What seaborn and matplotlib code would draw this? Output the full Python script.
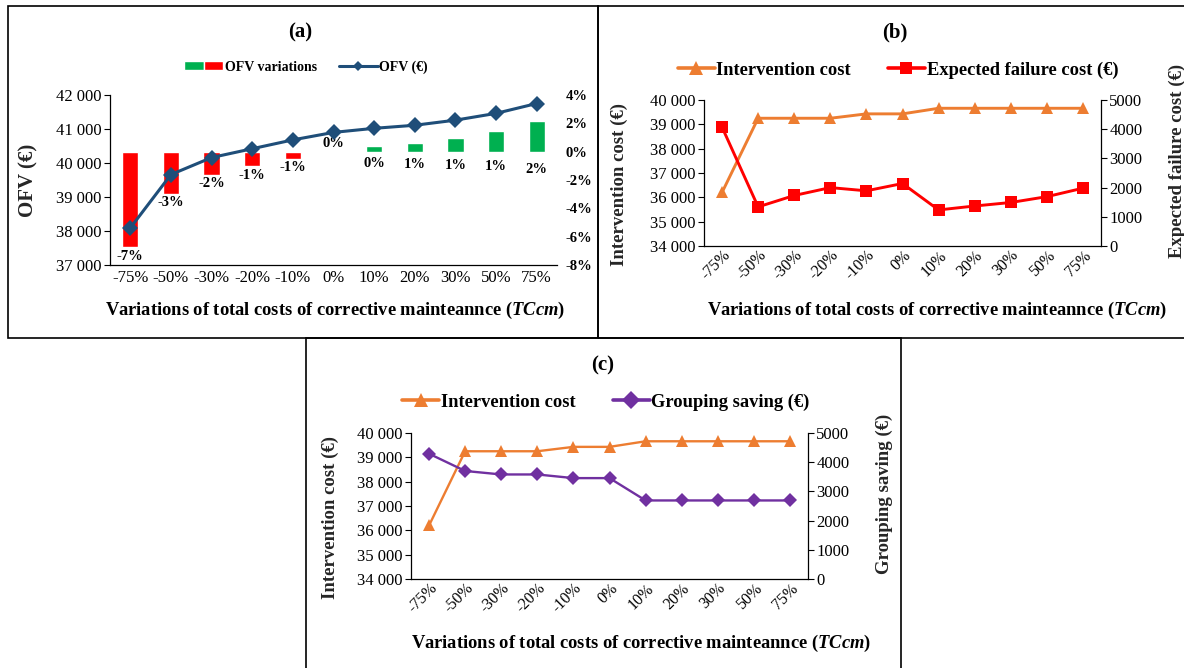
import numpy as np
import pandas as pd
import matplotlib
matplotlib.use("Agg")
import matplotlib.pyplot as plt
import seaborn as sns
from matplotlib.lines import Line2D
from matplotlib.patches import Patch, Rectangle
from matplotlib.legend_handler import HandlerTuple
from matplotlib.ticker import FuncFormatter, MultipleLocator

# ---------------- data ----------------
categories = ['-75%', '-50%', '-30%', '-20%', '-10%', '0%', '10%', '20%', '30%', '50%', '75%']
ofv = [38090, 39660, 40160, 40420, 40680, 40900, 41020, 41110, 41260, 41460, 41750]
ofv_variation = [-6.75, -3.0, -1.64, -1.03, -0.52, 0.0, 0.40, 0.63, 0.94, 1.45, 2.18]
intervention_cost = [36200, 39250, 39250, 39250, 39430, 39430, 39660, 39660, 39660, 39660, 39660]
expected_failure_cost = [4070, 1340, 1730, 2000, 1890, 2140, 1235, 1370, 1490, 1690, 1980]
grouping_saving = [4290, 3700, 3580, 3580, 3455, 3455, 2690, 2690, 2690, 2690, 2690]

XLABEL = r"Variations of total costs of corrective mainteannce ($\mathit{TCcm}$)"

# ---------------- style ----------------
sns.set_theme(style="white")
plt.rcParams['font.family'] = ['Liberation Serif', 'DejaVu Serif']
plt.rcParams['mathtext.fontset'] = 'custom'
plt.rcParams['mathtext.it'] = 'Liberation Serif:italic:bold'
plt.rcParams['mathtext.rm'] = 'Liberation Serif:bold'
plt.rcParams['axes.edgecolor'] = 'black'
plt.rcParams['text.color'] = 'black'
plt.rcParams['xtick.color'] = 'black'
plt.rcParams['ytick.color'] = 'black'

ORANGE = '#ED7D31'
RED = '#FF0000'
GREEN = '#00B050'
BLUE = '#1F4E79'
PURPLE = '#7030A0'

W, H = 1184, 668
fig = plt.figure(figsize=(W / 100, H / 100), dpi=100)
fig.patch.set_facecolor('white')


def box(x0, y0, x1, y1):
    return [x0 / W, 1 - y1 / H, (x1 - x0) / W, (y1 - y0) / H]


def fx(x):
    return x / W


def fy(y):
    return 1 - y / H


space_fmt = FuncFormatter(lambda v, p: f"{int(round(v)):,}".replace(",", " "))

# panel frames (b's right edge and c's bottom edge run off the image)
for (x0, y0, x1, y1) in [(8, 6, 598, 338), (598, 6, 1190, 338), (306, 338, 901, 675)]:
    fig.add_artist(Rectangle((fx(x0), fy(y1)), (x1 - x0) / W, (y1 - y0) / H,
                             transform=fig.transFigure, fill=False, ec='black', lw=1.2))

TICK_FS = 12


def style_left(ax, lo, hi, step):
    ax.set_ylim(lo, hi)
    ax.yaxis.set_major_locator(MultipleLocator(step))
    ax.yaxis.set_major_formatter(space_fmt)
    ax.tick_params(axis='y', which='major', direction='out', length=4, width=0.8,
                   labelsize=TICK_FS, pad=2, left=True)
    ax.tick_params(axis='x', length=0, labelsize=TICK_FS)
    for s in ['top', 'right']:
        ax.spines[s].set_visible(False)
    for s in ['left', 'bottom']:
        ax.spines[s].set_color('black')
        ax.spines[s].set_linewidth(0.9)
    ax.grid(False)
    ax.set_xlabel('')


# ================= panel (a) =================
A = (110, 95, 557, 265)
axa = fig.add_axes(box(*A))
axa_r = axa.twinx()

df_a = pd.DataFrame({'cat': categories, 'ofv': ofv, 'var': ofv_variation})
df_a['sign'] = np.where(df_a['var'] < 0, 'neg', 'pos')

sns.barplot(data=df_a, x='cat', y='var', hue='sign', order=categories,
            palette={'neg': RED, 'pos': GREEN}, dodge=False, width=0.4,
            legend=False, ax=axa_r, saturation=1)
sns.pointplot(data=df_a, x='cat', y='ofv', order=categories, color=BLUE,
              markers='D', linestyles='-', errorbar=None, ax=axa,
              linewidth=2.2, markersize=8, markeredgewidth=0)
axa.set_zorder(axa_r.get_zorder() + 1)
axa.patch.set_visible(False)

style_left(axa, 37000, 42000, 1000)
axa.set_xlim(-0.5, len(categories) - 0.5)
axa.set_ylabel('OFV (€)', fontsize=15, fontweight='bold')
axa.yaxis.set_label_coords((38 - A[0]) / (A[2] - A[0]), 0.5)

axa_r.set_ylim(-8, 4)
axa_r.yaxis.set_major_locator(MultipleLocator(2))
axa_r.yaxis.set_major_formatter(FuncFormatter(lambda v, p: f"{int(v)}%"))
axa_r.tick_params(axis='y', length=0, labelsize=10.5, pad=6)
for t in axa_r.get_yticklabels():
    t.set_fontweight('bold')
for s in axa_r.spines.values():
    s.set_visible(False)
axa_r.set_ylabel('')
axa_r.set_xlabel('')
axa_r.grid(False)

for i, v in enumerate(ofv_variation):
    if v < 0:
        ly = v - 0.62
    elif v == 0:
        ly = 0.6
    else:
        ly = -0.75 - 0.22 * v
    axa_r.text(i, ly, f"{round(v):d}%", ha='center', va='center',
               fontsize=10.5, fontweight='bold')

h_bar = (Patch(facecolor=GREEN), Patch(facecolor=RED))
h_line = Line2D([], [], color=BLUE, marker='D', lw=2.2, ms=5, markeredgewidth=0)
axa.legend([h_bar, h_line], ['OFV variations', 'OFV (€)'],
           handler_map={tuple: HandlerTuple(ndivide=None, pad=0)},
           loc='center', bbox_to_anchor=(fx(306), fy(67)), bbox_transform=fig.transFigure,
           ncol=2, frameon=False, prop={'weight': 'bold', 'size': 10},
           handlelength=2.8, handleheight=0.6, handletextpad=0.1, columnspacing=1.6)

fig.text(fx(300), fy(32), '(a)', ha='center', va='center', fontsize=15, fontweight='bold')
fig.text(fx(335), fy(310), XLABEL, ha='center', va='center', fontsize=13.3, fontweight='bold')
axa.set_xlabel('')


# ================= panels (b) and (c) =================
def twin_panel(P, right_vals, right_color, right_marker, right_label,
               left_label_x, right_label_x, title, title_xy, legend_xy, xlabel_xy,
               right_ms, right_lw, left_ms, left_lw):
    ax = fig.add_axes(box(*P))
    axr = ax.twinx()
    df = pd.DataFrame({'cat': categories, 'ic': intervention_cost, 'r': right_vals})
    sns.pointplot(data=df, x='cat', y='ic', order=categories, color=ORANGE,
                  markers='^', linestyles='-', errorbar=None, ax=ax,
                  linewidth=left_lw, markersize=left_ms, markeredgewidth=0)
    sns.pointplot(data=df, x='cat', y='r', order=categories, color=right_color,
                  markers=right_marker, linestyles='-', errorbar=None, ax=axr,
                  linewidth=right_lw, markersize=right_ms, markeredgewidth=0)
    style_left(ax, 34000, 40000, 1000)
    ax.set_xlim(-0.5, len(categories) - 0.5)
    axr.set_ylim(0, 5000)
    axr.yaxis.set_major_locator(MultipleLocator(1000))
    axr.tick_params(axis='y', direction='out', length=4, width=0.8, labelsize=TICK_FS,
                    pad=2, right=True)
    for s in ['top', 'left']:
        axr.spines[s].set_visible(False)
    axr.spines['right'].set_visible(True)
    axr.spines['right'].set_color('black')
    axr.spines['right'].set_linewidth(0.9)
    axr.spines['bottom'].set_visible(False)
    axr.grid(False)
    axr.set_xlabel('')
    ax.set_xlabel('')
    ax.tick_params(axis='x', labelrotation=45, labelsize=11.5, pad=1)
    for t in ax.get_xticklabels():
        t.set_ha('right')
        t.set_rotation_mode('anchor')
    ax.set_ylabel('Intervention cost (€)', fontsize=13.5, fontweight='bold')
    ax.yaxis.set_label_coords((left_label_x - P[0]) / (P[2] - P[0]), 0.42)
    axr.set_ylabel(right_label, fontsize=13.5, fontweight='bold')
    axr.yaxis.set_label_coords((right_label_x - P[0]) / (P[2] - P[0]), 0.58)

    h1 = Line2D([], [], color=ORANGE, marker='^', lw=2.6, ms=10, markeredgewidth=0)
    h2 = Line2D([], [], color=right_color, marker=right_marker, lw=2.6, ms=9, markeredgewidth=0)
    ax.legend([h1, h2], ['Intervention cost', right_label],
              loc='center', bbox_to_anchor=(fx(legend_xy[0]), fy(legend_xy[1])),
              bbox_transform=fig.transFigure, ncol=2, frameon=False,
              prop={'weight': 'bold', 'size': 13.3}, handlelength=2.0,
              handletextpad=0.1, columnspacing=2.0)
    fig.text(fx(title_xy[0]), fy(title_xy[1]), title, ha='center', va='center',
             fontsize=15, fontweight='bold')
    fig.text(fx(xlabel_xy[0]), fy(xlabel_xy[1]), XLABEL, ha='center', va='center',
             fontsize=13.3, fontweight='bold')
    return ax, axr


twin_panel((704, 100, 1101, 246), expected_failure_cost, RED, 's', 'Expected failure cost (€)',
           628, 1169, '(b)', (895, 32), (898, 70), (937, 310),
           right_ms=8.5, right_lw=2.1, left_ms=9, left_lw=2.1)

twin_panel((411, 433, 808, 579), grouping_saving, PURPLE, 'D', 'Grouping saving (€)',
           339, 876, '(c)', (603, 365), (606, 402), (641, 643),
           right_ms=7, right_lw=1.7, left_ms=9, left_lw=1.7)

fig.savefig('out.png', dpi=100, facecolor='white')
